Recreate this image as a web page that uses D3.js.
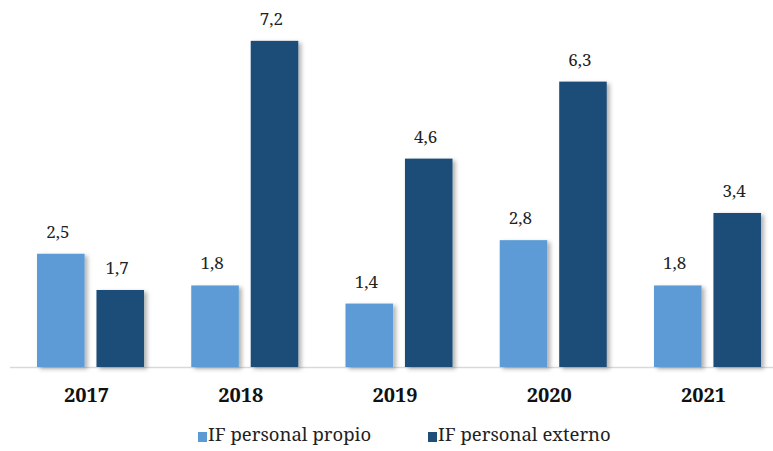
<!DOCTYPE html>
<html><head><meta charset="utf-8">
<script src="https://cdn.jsdelivr.net/npm/d3@7"></script>
<style>body{margin:0;background:#fff}svg{display:block}
text{font-family:"Noto Serif","DejaVu Serif","Liberation Serif",Tinos,"Times New Roman",serif}</style>
</head><body>
<svg id="c" width="773" height="451"></svg>
<script>
const years = ["2017","2018","2019","2020","2021"];
const seriesNames = ["IF personal propio","IF personal externo"];
const propio = [2.5, 1.8, 1.4, 2.8, 1.8];
const externo = [1.7, 7.2, 4.6, 6.3, 3.4];
const colors = ["#5b9bd5","#1f4e79"];

const svg = d3.select("#c");
const defs = svg.append("defs");
const f = defs.append("filter").attr("id","sh").attr("x","-20%").attr("y","-10%").attr("width","150%").attr("height","130%");
f.append("feDropShadow").attr("dx",3).attr("dy",2).attr("stdDeviation",2).attr("flood-color","#000").attr("flood-opacity",0.3);

const baseY = 367;
const y = d3.scaleLinear().domain([0,8]).range([baseY, baseY - 8*45.3]);
const x0 = d3.scaleBand().domain(years).range([13.4, 784.6]).padding(0);
const x1 = d3.scaleBand().domain(seriesNames).range([0, x0.bandwidth()]).paddingInner(0.2).paddingOuter(0.397);

svg.append("line").attr("x1",10).attr("x2",773).attr("y1",baseY+0.5).attr("y2",baseY+0.5)
  .attr("stroke","#d9d9d9").attr("stroke-width",1.5);

const data = years.map((yr,i)=>({year:yr, vals:[propio[i], externo[i]]}));
const g = svg.selectAll("g.grp").data(data).join("g").attr("class","grp")
  .attr("transform", d=>`translate(${x0(d.year)},0)`);
const bars = g.selectAll("g.b").data(d=>d.vals.map((v,k)=>({v, s:seriesNames[k], k}))).join("g").attr("class","b");
bars.append("rect")
  .attr("x", d=>x1(d.s)).attr("width", x1.bandwidth())
  .attr("y", d=>y(d.v)).attr("height", d=>baseY - y(d.v))
  .attr("fill", d=>colors[d.k]).attr("filter","url(#sh)");
bars.append("text")
  .attr("x", d=>x1(d.s)+x1.bandwidth()/2 - 3).attr("y", d=>y(d.v)-16)
  .attr("text-anchor","middle").style("font-size","17px").attr("fill","#222")
  .text(d=>d3.format(".1f")(d.v).replace(".",","));

svg.selectAll("text.yr").data(years).join("text").attr("class","yr")
  .attr("x", d=>x0(d)+x0.bandwidth()/2 - 4).attr("y", 402)
  .attr("text-anchor","middle").style("font-size","20px").style("font-weight","bold").attr("fill","#111")
  .text(d=>d);

const legX = [198, 428];
const lg = svg.selectAll("g.leg").data(seriesNames).join("g").attr("class","leg")
  .attr("transform",(d,i)=>`translate(${legX[i]},0)`);
lg.append("rect").attr("x",0).attr("y",432).attr("width",9).attr("height",10).attr("fill",(d,i)=>colors[i]);
lg.append("text").attr("x",10).attr("y",441).style("font-size","18.5px").attr("fill","#222").text(d=>d);
</script>
</body></html>
